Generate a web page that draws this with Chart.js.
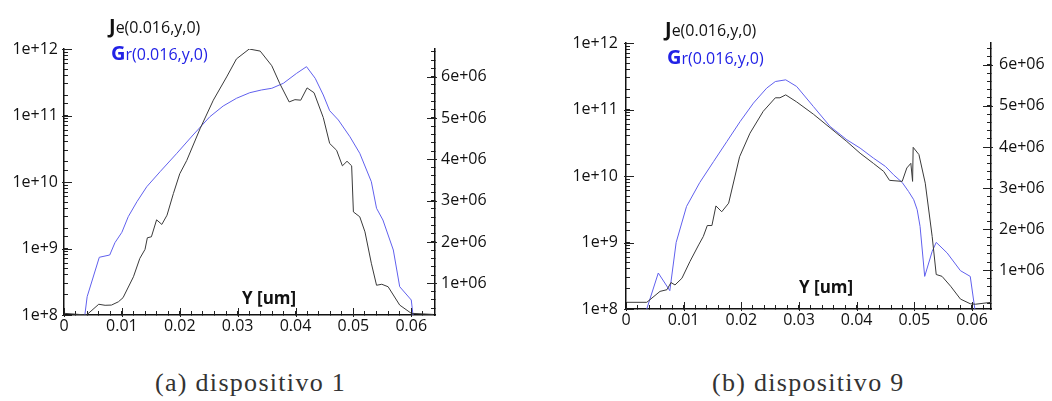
<!DOCTYPE html>
<html>
<head>
<meta charset="utf-8">
<script src="https://cdn.jsdelivr.net/npm/chart.js@4.4.1/dist/chart.umd.min.js"></script>
<style>
  html, body { margin: 0; padding: 0; background: #fff; }
  body { width: 1052px; height: 401px; overflow: hidden; position: relative; font-family: "Open Sans", sans-serif; color: #111; }
  canvas { position: absolute; top: 0; }
  .leg { position: absolute; font-size: 16px; line-height: 22px; white-space: nowrap; }
  .leg b { font-size: 20px; }
  .leg.gr { color: #2222e6; }
  .axt { position: absolute; font-weight: bold; font-size: 17px; line-height: 20px; white-space: nowrap; }
  .cap { position: absolute; font-family: "Liberation Serif", serif; font-size: 26px; letter-spacing: 1.3px; line-height: 28px; color: #333; white-space: nowrap; }
</style>
</head>
<body>
<canvas id="chartA" width="520" height="340" style="left:0px"></canvas>
<canvas id="chartB" width="512" height="340" style="left:540px"></canvas>

<div class="leg" style="left:109px;top:15px"><b>J</b>e(0.016,y,0)</div>
<div class="leg gr" style="left:111px;top:42px"><b>G</b>r(0.016,y,0)</div>
<div class="leg" style="left:665px;top:18px"><b>J</b>e(0.016,y,0)</div>
<div class="leg gr" style="left:667px;top:46px"><b>G</b>r(0.016,y,0)</div>

<div class="axt" style="left:242px;top:288px">Y [um]</div>
<div class="axt" style="left:799px;top:277px">Y [um]</div>

<div class="cap" style="left:155px;top:369px">(a) dispositivo 1</div>
<div class="cap" style="left:712px;top:369px">(b) dispositivo 9</div>

<script>
// ---- dispositivo 1 ----
const yA_je = [0, 0.0039, 0.006, 0.0071, 0.0082, 0.0094, 0.0102, 0.012, 0.0131, 0.014, 0.0144, 0.0151,
  0.016, 0.0169, 0.0178, 0.0189, 0.02, 0.0212, 0.0235, 0.0258, 0.0281, 0.0298, 0.032, 0.0339, 0.0359,
  0.0373, 0.0389, 0.0399, 0.0409, 0.042, 0.0432, 0.0448, 0.0459, 0.0471, 0.0481, 0.0489, 0.0497, 0.05,
  0.0511, 0.052, 0.0531, 0.054, 0.0549, 0.056, 0.058, 0.06, 0.0638];
const jeA = [1.06e8, 1.0e8, 1.45e8, 1.4e8, 1.41e8, 1.58e8, 1.82e8, 3.76e8, 7.1e8, 9.7e8, 1.45e9, 1.5e9,
  2.7e9, 2.3e9, 3.17e9, 6.7e9, 1.33e10, 2.1e10, 6.3e10, 1.7e11, 3.8e11, 7.1e11, 1.0e12, 9.3e11, 5.6e11,
  3.0e11, 1.6e11, 1.73e11, 1.7e11, 2.6e11, 2.2e11, 9.3e10, 3.8e10, 3.0e10, 1.75e10, 2.05e10, 1.75e10, 3.55e9,
  3.0e9, 1.78e9, 6.0e8, 2.8e8, 2.9e8, 2.66e8, 1.41e8, 1.06e8, 1.02e8];

const yA_gr = [0.0036, 0.004, 0.0061, 0.0079, 0.0088, 0.01, 0.0111, 0.0126, 0.0143, 0.0166, 0.0195,
  0.0223, 0.0252, 0.0275, 0.0298, 0.0321, 0.0341, 0.0359, 0.0379, 0.0402, 0.0419, 0.0434, 0.0448, 0.0459,
  0.0474, 0.0494, 0.0511, 0.0531, 0.054, 0.0551, 0.0569, 0.058, 0.06, 0.0603];
const grA = [0.23e6, 0.675e6, 1.629e6, 1.684e6, 1.982e6, 2.234e6, 2.611e6, 2.974e6, 3.337e6, 3.70e6, 4.146e6,
  4.589e6, 5.031e6, 5.29e6, 5.477e6, 5.612e6, 5.678e6, 5.719e6, 5.84e6, 6.082e6, 6.242e6, 5.961e6, 5.557e6, 5.177e6,
  4.952e6, 4.547e6, 4.146e6, 3.458e6, 2.815e6, 2.531e6, 1.805e6, 0.917e6, 0.595e6, 0.23e6];

// ---- dispositivo 9 ----
const yB_je = [0.0001, 0.0036, 0.0059, 0.0071, 0.0078, 0.0085, 0.0097, 0.0111, 0.0126, 0.0134, 0.0141,
  0.0149, 0.0156, 0.0166, 0.0178, 0.0197, 0.0215, 0.0238, 0.0259, 0.0267, 0.0277, 0.0296, 0.0325, 0.0354,
  0.0383, 0.0406, 0.0429, 0.0447, 0.0457, 0.0479, 0.0487, 0.0494, 0.0497, 0.0498, 0.0508, 0.0519, 0.0531,
  0.0538, 0.0548, 0.0563, 0.058, 0.0597, 0.0606, 0.0633];
const jeB = [1.26e8, 1.26e8, 1.84e8, 1.95e8, 2.5e8, 2.3e8, 2.9e8, 5.2e8, 9.2e8, 1.23e9, 1.8e9,
  1.8e9, 3.55e9, 2.9e9, 3.9e9, 1.95e10, 4.4e10, 9.4e10, 1.5e11, 1.5e11, 1.66e11, 1.3e11, 8.5e10, 5.3e10,
  3.3e10, 2.2e10, 1.55e10, 1.17e10, 8.6e9, 8.3e9, 1.32e10, 1.55e10, 8.3e9, 2.7e10, 2.1e10, 7.8e9, 1.23e9,
  3.3e8, 3.1e8, 2.2e8, 1.41e8, 1.2e8, 1.18e8, 1.26e8];

const yB_gr = [0.0036, 0.0056, 0.0076, 0.0087, 0.0105, 0.0128, 0.0152, 0.0175, 0.0198, 0.0221, 0.0244,
  0.0259, 0.0277, 0.0296, 0.0325, 0.0354, 0.0383, 0.0406, 0.0429, 0.045, 0.0464, 0.0479, 0.049, 0.0499,
  0.0505, 0.051, 0.0518, 0.0531, 0.0538, 0.0557, 0.058, 0.0597, 0.0605];
const grB = [0.06e6, 0.936e6, 0.506e6, 1.68e6, 2.555e6, 3.138e6, 3.649e6, 4.135e6, 4.621e6, 5.068e6, 5.433e6,
  5.593e6, 5.634e6, 5.472e6, 4.985e6, 4.499e6, 4.176e6, 3.974e6, 3.731e6, 3.527e6, 3.325e6, 3.138e6, 2.919e6, 2.718e6,
  2.474e6, 2.069e6, 0.853e6, 1.461e6, 1.68e6, 1.422e6, 0.992e6, 0.853e6, 0.06e6];

// axis ranges and tick spacing
const logRange = [1e8, 1e12];
const rightRangeA = [0.232e6, 6.67e6];
const rightRangeB = [0.06e6, 6.53e6];
const xMaxA = 0.0641;
const xMaxB = 0.0633;
const xMinorStep = 0.002, xMajorStep = 0.01;
const rMinorStep = 2e5, rMajorStep = 1e6;

const JE_COLOR = 'rgb(58,58,58)';
const GR_COLOR = 'rgb(96,96,238)';
const AXIS_COLOR = '#222';
const TICK_FONT = { family: '"Open Sans", sans-serif', size: 16 };
const MINOR_LEN = 4;   // built-in tick marks, drawn inward (negative length)

const near = (v, step) => Math.abs(v / step - Math.round(v / step)) < 1e-6;
const isDecade = v => { const e = Math.log10(v); return Math.abs(e - Math.round(e)) < 1e-9; };
const pts = (xs, ys) => xs.map((x, i) => ({ x: x, y: ys[i] }));

// tick values on whole multiples of a step inside the scale range
function stepTicks(scale, step) {
  const out = [];
  const i0 = Math.ceil(scale.min / step - 1e-9), i1 = Math.floor(scale.max / step + 1e-9);
  for (let i = i0; i <= i1; i++) out.push({ value: +(i * step).toPrecision(12) });
  scale.ticks = out;
}

// longer marks on the labelled (major) ticks
const majorTicks = {
  id: 'majorTicks',
  afterDatasetsDraw(chart) {
    const ctx = chart.ctx;
    const x = chart.scales.x, yL = chart.scales.yL, yR = chart.scales.yR;
    const { left, right, bottom } = chart.chartArea;
    ctx.save();
    ctx.fillStyle = AXIS_COLOR;
    x.ticks.forEach(t => {
      if (!near(t.value, xMajorStep)) return;
      const px = Math.round(x.getPixelForValue(t.value));
      ctx.fillRect(px, bottom - 7, 1, 9);
    });
    yL.ticks.forEach(t => {
      if (!isDecade(t.value)) return;
      const py = Math.round(yL.getPixelForValue(t.value));
      ctx.fillRect(left - 2, py, 10, 1);
    });
    yR.ticks.forEach(t => {
      if (!near(t.value, rMajorStep)) return;
      const py = Math.round(yR.getPixelForValue(t.value));
      ctx.fillRect(right - 8, py, 10, 1);
    });
    ctx.restore();
  }
};

const tickGrid = { display: true, drawOnChartArea: false, drawTicks: true, tickLength: -MINOR_LEN, tickColor: AXIS_COLOR, tickWidth: 1 };
const axisBorder = { display: true, color: '#111', width: 1.5 };

function makeChart(id, g) {
  return new Chart(document.getElementById(id), {
    type: 'line',
    data: {
      datasets: [
        { label: 'Je(0.016,y,0)', data: pts(g.jeX, g.je), yAxisID: 'yL', borderColor: JE_COLOR,
          borderWidth: 1, pointRadius: 0, tension: 0, fill: false },
        { label: 'Gr(0.016,y,0)', data: pts(g.grX, g.gr), yAxisID: 'yR', borderColor: GR_COLOR,
          borderWidth: 1, pointRadius: 0, tension: 0, fill: false }
      ]
    },
    options: {
      responsive: false,
      animation: false,
      events: [],
      layout: { padding: { top: g.top, left: 0, right: 0, bottom: 0 } },
      plugins: { legend: { display: false }, tooltip: { enabled: false } },
      scales: {
        x: {
          type: 'linear', min: 0, max: g.xMax,
          grid: tickGrid, border: axisBorder,
          afterBuildTicks: s => stepTicks(s, xMinorStep),
          ticks: {
            autoSkip: false, maxRotation: 0, padding: 2 + MINOR_LEN, color: '#111', font: TICK_FONT,
            callback: v => near(v, xMajorStep) ? (Math.abs(v) < 1e-9 ? '0' : v.toFixed(2)) : ''
          },
          afterFit: s => { s.height = g.xH; }
        },
        yL: {
          type: 'logarithmic', position: 'left', min: logRange[0], max: logRange[1],
          grid: tickGrid, border: axisBorder,
          ticks: {
            autoSkip: false, padding: g.padL + MINOR_LEN, color: '#111', font: TICK_FONT,
            callback: v => isDecade(v) ? '1e+' + Math.round(Math.log10(v)) : ''
          },
          afterFit: s => { s.width = g.leftW; }
        },
        yR: {
          type: 'linear', position: 'right', min: g.rRange[0], max: g.rRange[1],
          grid: tickGrid, border: axisBorder,
          afterBuildTicks: s => stepTicks(s, rMinorStep),
          ticks: {
            autoSkip: false, padding: g.padR + MINOR_LEN, color: '#111', font: TICK_FONT,
            callback: v => (near(v, rMajorStep) && v > 0) ? Math.round(v / rMajorStep) + 'e+06' : ''
          },
          afterFit: s => { s.width = g.rightW; }
        }
      }
    },
    plugins: [majorTicks]
  });
}

makeChart('chartA', { jeX: yA_je, je: jeA, grX: yA_gr, gr: grA, xMax: xMaxA, rRange: rightRangeA,
  top: 49, xH: 25, leftW: 64, rightW: 85, padL: 6, padR: 6 });
makeChart('chartB', { jeX: yB_je, je: jeB, grX: yB_gr, gr: grB, xMax: xMaxB, rRange: rightRangeB,
  top: 43, xH: 31, leftW: 86, rightW: 61, padL: 8, padR: 8 });
</script>
</body>
</html>
